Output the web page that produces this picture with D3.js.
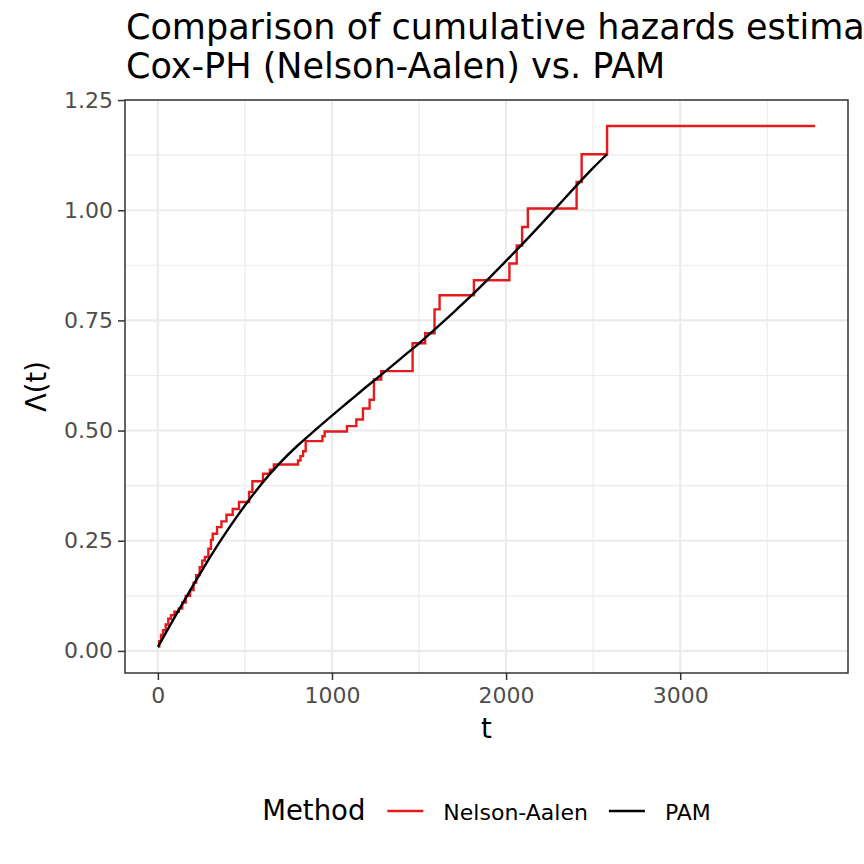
<!DOCTYPE html>
<html>
<head>
<meta charset="utf-8">
<script src="https://cdn.jsdelivr.net/npm/d3@7"></script>
<style>
  body { margin: 0; background: #fff; }
  text { font-family: "DejaVu Sans", sans-serif; }
</style>
</head>
<body>
<div id="chart"></div>
<script>
// Nelson-Aalen cumulative hazard: [time, value after jump]
var naTimes  = [2, 8, 18, 30, 45, 60, 75, 95, 120, 140, 160, 185, 205, 220, 240, 255, 270, 290, 305, 315,
                340, 365, 394, 430, 466, 524, 543, 604, 643, 666, 805, 819, 834, 849, 945, 958, 1086, 1140,
                1178, 1216, 1241, 1283, 1463, 1535, 1589, 1618, 1815, 2019, 2061, 2092, 2125, 2405, 2434,
                2580, 3775];
var naValues = [0.010, 0.022, 0.036, 0.047, 0.060, 0.073, 0.081, 0.089, 0.096, 0.110, 0.125, 0.138, 0.155,
                0.172, 0.190, 0.205, 0.213, 0.232, 0.252, 0.266, 0.281, 0.294, 0.309, 0.322, 0.338, 0.361,
                0.385, 0.402, 0.411, 0.423, 0.432, 0.442, 0.453, 0.476, 0.487, 0.498, 0.510, 0.525, 0.550,
                0.570, 0.616, 0.635, 0.698, 0.721, 0.775, 0.807, 0.841, 0.879, 0.920, 0.962, 1.004, 1.064,
                1.127, 1.191, 1.191];

// PAM cumulative hazard (smooth)
var pamTimes  = [0, 100, 200, 300, 400, 500, 600, 700, 800, 900, 1000, 1100, 1200, 1300, 1400, 1500,
                 1600, 1700, 1800, 1900, 2000, 2100, 2200, 2300, 2400, 2500, 2580];
var pamValues = [0.009, 0.079, 0.147, 0.213, 0.274, 0.330, 0.381, 0.426, 0.465, 0.500, 0.534, 0.567,
                 0.600, 0.632, 0.665, 0.698, 0.733, 0.769, 0.806, 0.845, 0.885, 0.926, 0.968, 1.011,
                 1.054, 1.096, 1.127];

var xTicks = [0, 1000, 2000, 3000];
var xMinor = [500, 1500, 2500, 3500];
var yTicks = [0, 0.25, 0.5, 0.75, 1.0, 1.25];
var yMinor = [0.125, 0.375, 0.625, 0.875, 1.125];

var methods = ["Nelson-Aalen", "PAM"];
var methodColors = ["#E41A1C", "#000000"];

var W = 864, H = 864;
var margin = {left: 125, right: 16, top: 100, bottom: 191};
var pw = W - margin.left - margin.right, ph = H - margin.top - margin.bottom;

var na = naTimes.map(function (t, i) { return {t: t, v: naValues[i]}; });
var pam = pamTimes.map(function (t, i) { return {t: t, v: pamValues[i]}; });
var all = na.concat(pam);

// ggplot-style 5% expansion
function expand(ext) { var d = (ext[1] - ext[0]) * 0.05; return [ext[0] - d, ext[1] + d]; }
var x = d3.scaleLinear().domain(expand(d3.extent(all, function (d) { return d.t; }))).range([0, pw]);
var y = d3.scaleLinear().domain(expand(d3.extent(all, function (d) { return d.v; }))).range([ph, 0]);

var svg = d3.select("#chart").append("svg").attr("width", W).attr("height", H);
svg.append("rect").attr("width", W).attr("height", H).attr("fill", "#fff");

var g = svg.append("g").attr("transform", "translate(" + margin.left + "," + margin.top + ")");

// grid
g.selectAll(".xminor").data(xMinor).enter().append("line")
  .attr("x1", x).attr("x2", x).attr("y1", 0).attr("y2", ph)
  .attr("stroke", "#EBEBEB").attr("stroke-width", 1.1);
g.selectAll(".yminor").data(yMinor).enter().append("line")
  .attr("y1", y).attr("y2", y).attr("x1", 0).attr("x2", pw)
  .attr("stroke", "#EBEBEB").attr("stroke-width", 1.1);
g.selectAll(".xmajor").data(xTicks).enter().append("line")
  .attr("x1", x).attr("x2", x).attr("y1", 0).attr("y2", ph)
  .attr("stroke", "#EBEBEB").attr("stroke-width", 2.1);
g.selectAll(".ymajor").data(yTicks).enter().append("line")
  .attr("y1", y).attr("y2", y).attr("x1", 0).attr("x2", pw)
  .attr("stroke", "#EBEBEB").attr("stroke-width", 2.1);

// lines
var naLine = d3.line().x(function (d) { return x(d.t); }).y(function (d) { return y(d.v); }).curve(d3.curveStepAfter);
var pamLine = d3.line().x(function (d) { return x(d.t); }).y(function (d) { return y(d.v); }).curve(d3.curveNatural);

g.append("path").datum(na).attr("d", naLine).attr("fill", "none")
  .attr("stroke", methodColors[0]).attr("stroke-width", 2.4);
g.append("path").datum(pam).attr("d", pamLine).attr("fill", "none")
  .attr("stroke", methodColors[1]).attr("stroke-width", 2.4);

// border
g.append("rect").attr("width", pw).attr("height", ph).attr("fill", "none")
  .attr("stroke", "#333333").attr("stroke-width", 1.5);

// axes
var xAxis = g.append("g").attr("transform", "translate(0," + ph + ")")
  .call(d3.axisBottom(x).tickValues(xTicks).tickFormat(d3.format("d")).tickSize(7).tickPadding(5));
var yAxis = g.append("g")
  .call(d3.axisLeft(y).tickValues(yTicks).tickFormat(d3.format(".2f")).tickSize(7).tickPadding(5));
[xAxis, yAxis].forEach(function (a) {
  a.select(".domain").remove();
  a.selectAll(".tick line").attr("stroke", "#333333").attr("stroke-width", 1.5);
  a.selectAll(".tick text").attr("fill", "#4D4D4D").style("font-size", "22px")
    .style("font-family", "DejaVu Sans, sans-serif");
});
xAxis.selectAll(".tick text").attr("dy", "0.8em");

// axis titles
svg.append("text").attr("x", margin.left + pw / 2).attr("y", 738).attr("text-anchor", "middle")
  .style("font-size", "27.5px").attr("fill", "#000").text("t");
svg.append("text").attr("transform", "translate(46," + (margin.top + ph / 2) + ") rotate(-90)")
  .attr("text-anchor", "middle").style("font-size", "27.5px").attr("fill", "#000").text("Λ(t)");

// title (runs past the right edge, as in the original)
var title = svg.append("text").attr("x", margin.left + 1).attr("y", 39).style("font-size", "35px").attr("fill", "#000");
title.append("tspan").attr("x", margin.left + 1).attr("y", 39).text("Comparison of cumulative hazards estimates");
title.append("tspan").attr("x", margin.left + 1).attr("y", 78).text("Cox-PH (Nelson-Aalen) vs. PAM");

// legend
var leg = svg.append("g");
var lt = leg.append("text").attr("x", 0).attr("y", 820).style("font-size", "27.5px").attr("fill", "#000").text("Method");
var cx = lt.node().getComputedTextLength() + 22;
methods.forEach(function (m, i) {
  leg.append("line").attr("x1", cx).attr("x2", cx + 36).attr("y1", 811).attr("y2", 811)
    .attr("stroke", methodColors[i]).attr("stroke-width", 2.4);
  var t = leg.append("text").attr("x", cx + 56).attr("y", 820).style("font-size", "22px").attr("fill", "#000").text(m);
  cx += 56 + t.node().getComputedTextLength() + 21;
});
var legW = cx - 21;
leg.attr("transform", "translate(" + (margin.left + pw / 2 - legW / 2) + ",0)");
</script>
</body>
</html>
